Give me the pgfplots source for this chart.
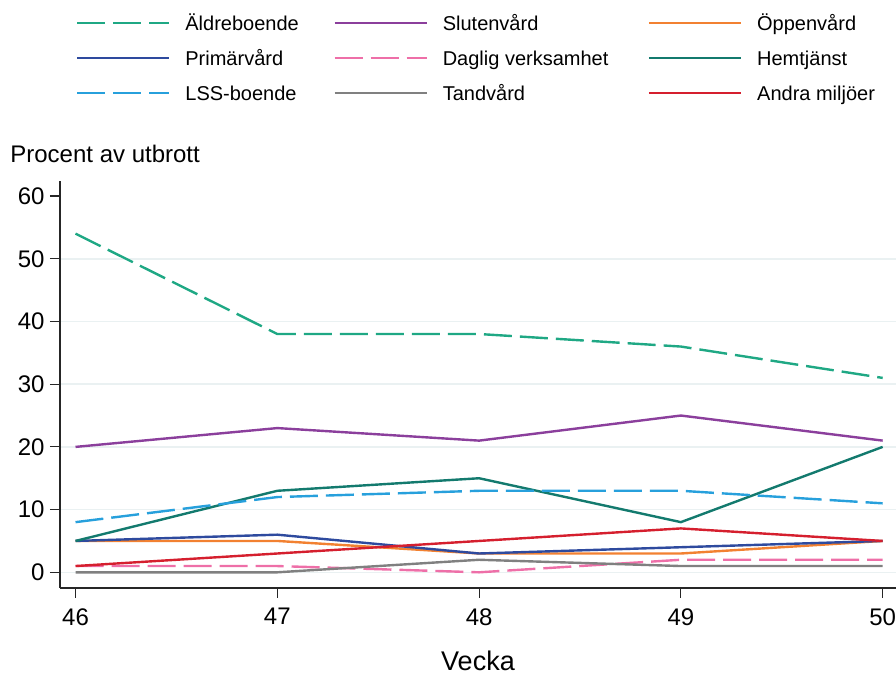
\documentclass[border=0pt]{standalone}
\usepackage{fontspec}
\setmainfont{Liberation Sans}
\usepackage{pgfplots}
\pgfplotsset{compat=1.18}
\definecolor{cAld}{HTML}{1FA884}
\definecolor{cSlu}{HTML}{8B3F9C}
\definecolor{cOpp}{HTML}{F28131}
\definecolor{cPri}{HTML}{2E4A9E}
\definecolor{cDag}{HTML}{EE6FA8}
\definecolor{cHem}{HTML}{137A6E}
\definecolor{cLSS}{HTML}{27A0DC}
\definecolor{cTan}{HTML}{808080}
\definecolor{cAnd}{HTML}{D51F2E}
\definecolor{gridc}{HTML}{EAF1F2}
\begin{document}
\begin{tikzpicture}
\path[use as bounding box] (-30pt,-42.5pt) rectangle (418pt,294pt);
\begin{axis}[
  scale only axis, width=418pt, height=203.5pt,
  at={(0pt,0pt)}, anchor=south west,
  xmin=45.923, xmax=50.066, ymin=-2.5, ymax=62.4,
  axis x line*=bottom, axis y line*=left,
  axis line style={black!85, line width=0.6pt},
  xtick={46,47,48,49,50},
  ytick={0,10,20,30,40,50}, extra y ticks={60}, extra y tick style={grid=none},
  ymajorgrids, grid style={color=gridc, line width=0.8pt},
  tick align=outside, major tick length=5pt,
  tick style={black!85, line width=0.6pt},
  /pgf/number format/assume math mode=true,
  tick label style={font=\fontsize{12}{14}\selectfont, inner sep=0pt},
  xticklabel style={yshift=-5pt},
  yticklabel style={xshift=-2.5pt},
  xlabel={Vecka},
  xlabel style={font=\fontsize{13.5}{16}\selectfont, inner sep=0pt, anchor=base, at={(axis description cs:0.5,-0.2015)}},
  ylabel={Procent av utbrott},
  ylabel style={rotate=-90, font=\fontsize{12}{14}\selectfont, inner sep=0pt, anchor=base west, at={(axis description cs:-0.0598,1.0452)}},
  legend columns=3,
  legend cell align=left,
  legend image code/.code={\draw[#1] (0pt,0pt) -- (46pt,0pt);},
  legend style={draw=none, fill=none, inner sep=0pt, outer sep=0pt,
    at={(axis description cs:0.01914,1.4103)}, anchor=north west,
    font=\fontsize{10}{12}\selectfont,
    nodes={inner sep=0pt, text height=8.2pt, text depth=1pt},
    /tikz/every odd column/.append style={column sep=7.5pt},
    row sep=8.3pt},
  every axis plot/.append style={line width=1.2pt},
]
\addplot[cAld, dash pattern=on 14pt off 4pt] coordinates {(46,54) (47,38) (48,38) (49,36) (50,31)};
\addlegendentry{\makebox[74pt][l]{Äldreboende}}
\addplot[cSlu] coordinates {(46,20) (47,23) (48,21) (49,25) (50,21)};
\addlegendentry{\makebox[102.5pt][l]{Slutenvård}}
\addplot[cOpp] coordinates {(46,5) (47,5) (48,3) (49,3) (50,5)};
\addlegendentry{Öppenvård}
\addplot[cPri] coordinates {(46,5) (47,6) (48,3) (49,4) (50,5)};
\addlegendentry{\makebox[74pt][l]{Primärvård}}
\addplot[cDag, dash pattern=on 14pt off 4pt] coordinates {(46,1) (47,1) (48,0) (49,2) (50,2)};
\addlegendentry{\makebox[102.5pt][l]{Daglig verksamhet}}
\addplot[cHem] coordinates {(46,5) (47,13) (48,15) (49,8) (50,20)};
\addlegendentry{Hemtjänst}
\addplot[cLSS, dash pattern=on 14pt off 4pt] coordinates {(46,8) (47,12) (48,13) (49,13) (50,11)};
\addlegendentry{\makebox[74pt][l]{LSS-boende}}
\addplot[cTan] coordinates {(46,0) (47,0) (48,2) (49,1) (50,1)};
\addlegendentry{\makebox[102.5pt][l]{Tandvård}}
\addplot[cAnd] coordinates {(46,1) (47,3) (48,5) (49,7) (50,5)};
\addlegendentry{Andra miljöer}
\end{axis}
\end{tikzpicture}
\end{document}
